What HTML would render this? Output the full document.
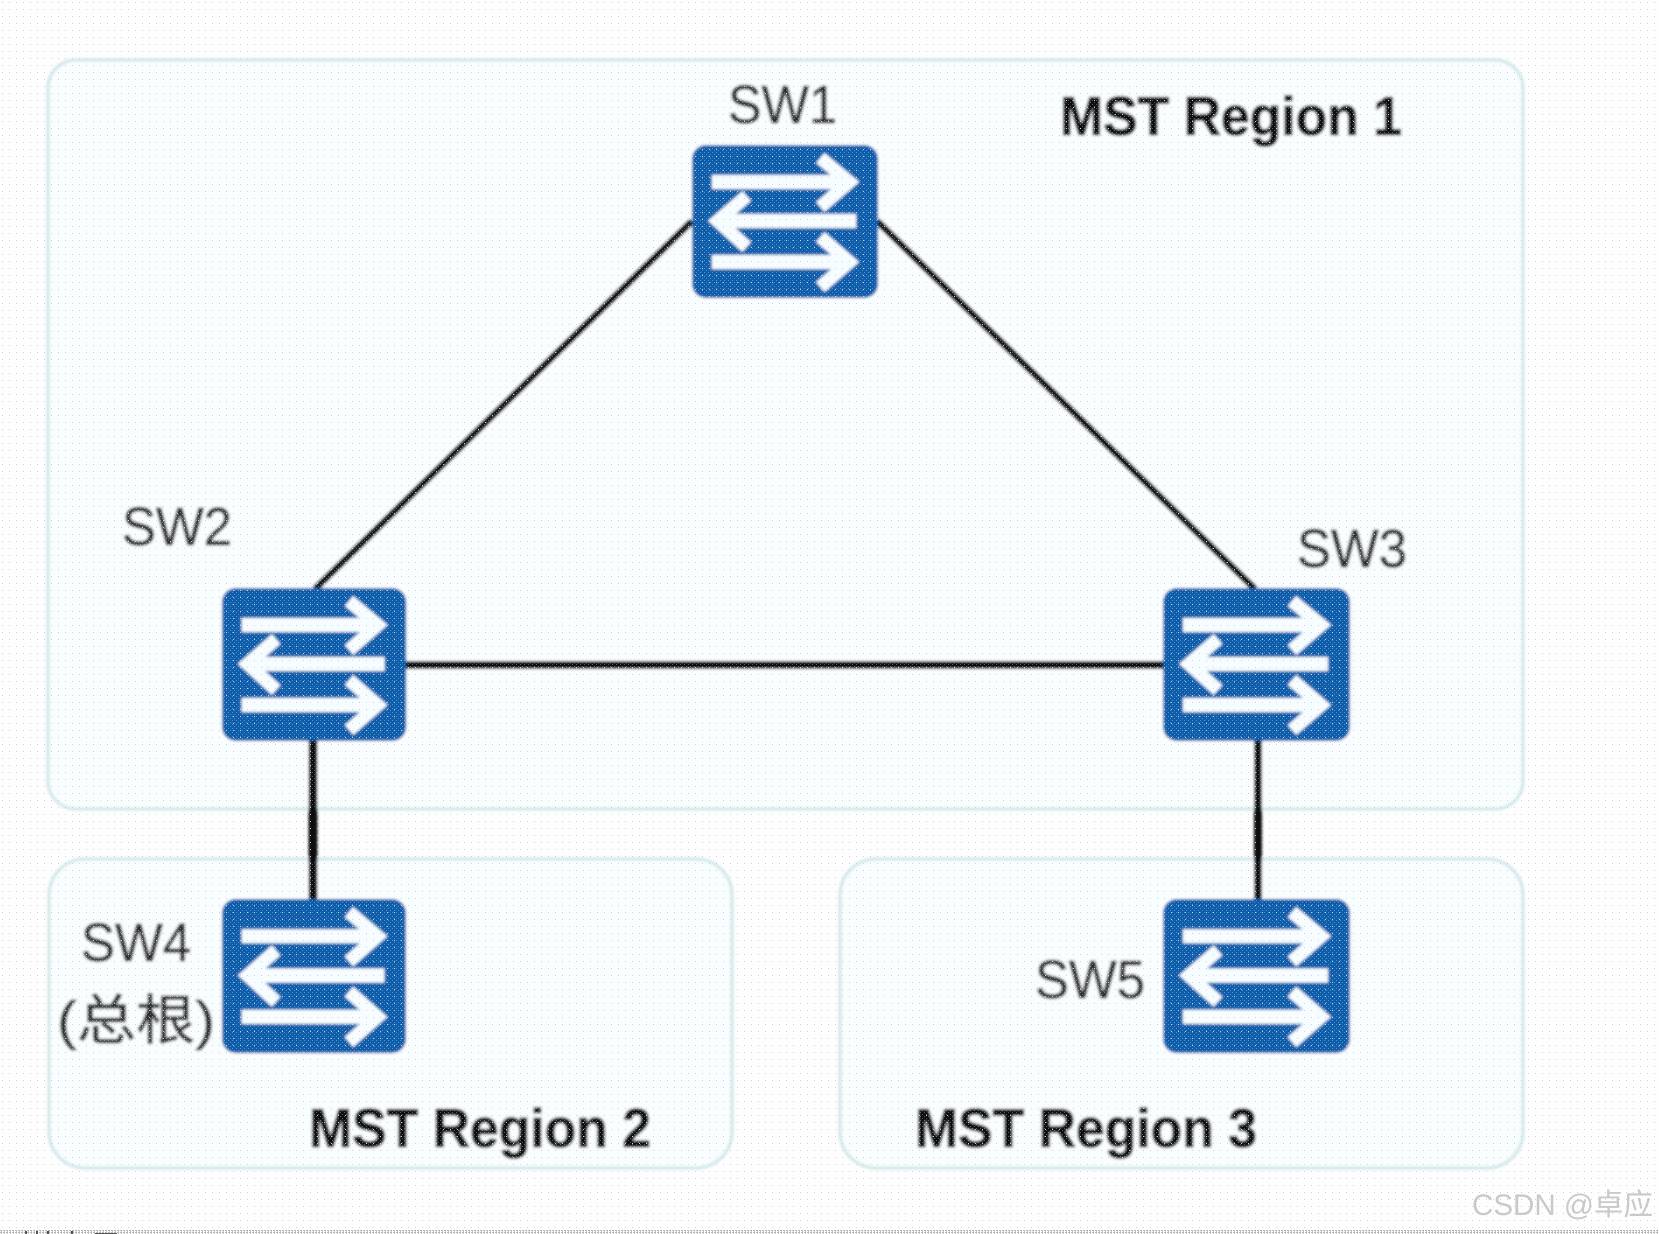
<!DOCTYPE html>
<html><head><meta charset="utf-8"><style>
html,body{margin:0;padding:0;background:#fff;width:1659px;height:1234px;overflow:hidden}
svg{display:block}
text{font-family:"Liberation Sans","Noto Sans CJK SC",sans-serif;fill:#333}
.b{font-weight:bold;fill:#0c0c0c;font-size:55px;stroke:#0c0c0c;stroke-width:1px}
.n{font-size:54px;fill:#2c2c2c;stroke:#2c2c2c;stroke-width:.8px}
</style></head><body>
<svg width="1659" height="1234" viewBox="0 0 1659 1234" xmlns="http://www.w3.org/2000/svg">
<defs>
<pattern id="dots" width="7" height="7" patternUnits="userSpaceOnUse"><rect x="2" y="2" width="1" height="1" fill="#cfcfe2"/></pattern>
<pattern id="dense" width="4" height="4" patternUnits="userSpaceOnUse"><rect width="1" height="1" fill="#d6f8fb"/><rect x="2" y="2" width="1" height="1" fill="#e2e2f2"/></pattern>
<pattern id="strip" width="3" height="2" patternUnits="userSpaceOnUse"><rect width="2" height="1" fill="#b4b4b4"/><rect x="1" y="1" width="1" height="1" fill="#c8c8c8"/></pattern>
<filter id="soft" x="-2%" y="-2%" width="104%" height="104%"><feGaussianBlur stdDeviation="1.2"/></filter>
<g id="sw">
<rect width="187" height="153" rx="14" fill="#0e5dab"/>
<g fill="none" stroke="#f8feff" stroke-width="14" stroke-linejoin="miter">
<path d="M20 37H155"/><path d="M129 13L158 37L129 62" stroke-width="13"/>
<path d="M30 76H165"/><path d="M55 51L26 76L55 102" stroke-width="13"/>
<path d="M20 117H155"/><path d="M129 92L158 117L129 142" stroke-width="13"/>
</g>
</g>
</defs>
<rect width="1659" height="1234" fill="#fefefe"/>
<g filter="url(#soft)">
<g fill="#fafefe" stroke="#cfe6e9" stroke-width="3">
<rect x="48" y="60" width="1475" height="749" rx="28"/>
<rect x="49" y="859" width="683" height="309" rx="36"/>
<rect x="840" y="859" width="683" height="309" rx="36"/>
</g>
<g stroke="#0c0c0c" fill="none">
<path d="M692 221L315 589" stroke-width="7"/>
<path d="M877 221L1255 589" stroke-width="7"/>
<path d="M402 665H1165" stroke-width="8"/>
<path d="M313 738V901" stroke-width="9"/>
<path d="M1258 738V901" stroke-width="8"/>
</g>
<use href="#sw" transform="translate(692 145) scale(.995 1)"/>
<use href="#sw" transform="translate(222 588) scale(.985 1)"/>
<use href="#sw" transform="translate(1163 588)"/>
<use href="#sw" transform="translate(222 899) scale(.984 1.007)"/>
<use href="#sw" transform="translate(1163 899) scale(1 1.007)"/>
<text class="n" x="728" y="123" textLength="109" lengthAdjust="spacingAndGlyphs">SW1</text>
<text class="n" x="122" y="545" textLength="110" lengthAdjust="spacingAndGlyphs">SW2</text>
<text class="n" x="1297" y="567" textLength="110" lengthAdjust="spacingAndGlyphs">SW3</text>
<text class="n" x="81" y="961" textLength="110" lengthAdjust="spacingAndGlyphs">SW4</text>
<text class="n" x="1035" y="998" textLength="110" lengthAdjust="spacingAndGlyphs">SW5</text>
<text x="57" y="1039" font-size="54" textLength="158" lengthAdjust="spacingAndGlyphs" style="fill:#2c2c2c;stroke:#2c2c2c;stroke-width:.8px">(总根)</text>
<text class="b" x="1060" y="135" textLength="342" lengthAdjust="spacingAndGlyphs">MST Region 1</text>
<text class="b" x="309" y="1147" textLength="342" lengthAdjust="spacingAndGlyphs">MST Region 2</text>
<text class="b" x="915" y="1147" textLength="342" lengthAdjust="spacingAndGlyphs">MST Region 3</text>
</g>
<rect width="1659" height="1234" fill="url(#dots)"/>
<g fill="url(#dense)">
<rect x="50" y="62" width="1471" height="745" rx="27" opacity=".35"/>
<rect x="51" y="861" width="679" height="305" rx="35" opacity=".35"/>
<rect x="842" y="861" width="679" height="305" rx="35" opacity=".35"/>
</g>
<text x="1472" y="1215" font-size="30" style="fill:#c9c9c9" textLength="181" lengthAdjust="spacingAndGlyphs">CSDN @卓应</text>
<rect y="1230" width="1659" height="4" fill="url(#strip)"/>
<path d="M26 1234v-3M37 1234v-3M48 1234v-3M72 1234v-3M95 1234h22" stroke="#555" stroke-width="2"/>
</svg>
</body></html>
